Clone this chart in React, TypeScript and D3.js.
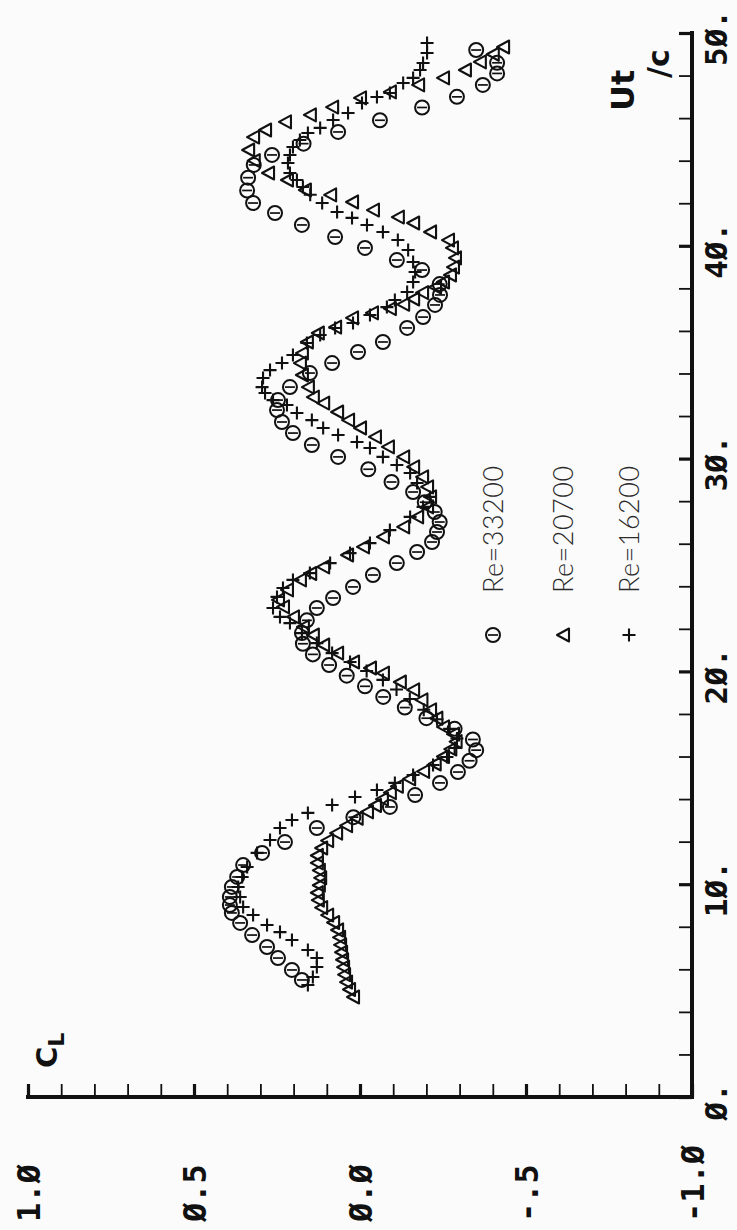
import { useEffect, useRef } from "react";
import * as d3 from "d3";

// values: time Ut/c and lift coefficient C_L for each Reynolds number
const ut33200 = [5.5, 5.97, 6.53, 7.05, 7.61, 8.18, 8.65, 9.02, 9.4, 9.87, 10.34, 10.9, 11.47, 11.98, 12.64, 13.15, 13.63, 14.19, 14.76, 15.27, 15.8, 16.3, 16.8, 17.3, 17.8, 18.3, 18.8, 19.3, 19.8, 20.3, 20.8, 21.3, 21.8, 22.4, 22.98, 23.45, 23.97, 24.53, 25.09, 25.61, 26.08, 26.55, 27.02, 27.49, 27.95, 28.43, 28.9, 29.5, 30.08, 30.64, 31.2, 31.72, 32.28, 32.75, 33.36, 34.02, 34.49, 35.01, 35.48, 36.14, 36.65, 37.22, 37.69, 38.2, 38.86, 39.33, 39.9, 40.41, 40.98, 41.54, 42.01, 42.6, 43.2, 43.8, 44.27, 44.8, 45.35, 45.9, 46.5, 47.0, 47.56, 48.1, 48.6, 49.2];
const cl33200 = [0.175, 0.205, 0.247, 0.28, 0.325, 0.361, 0.386, 0.392, 0.392, 0.386, 0.37, 0.352, 0.295, 0.226, 0.13, 0.02, -0.09, -0.166, -0.241, -0.295, -0.33, -0.35, -0.34, -0.285, -0.2, -0.135, -0.07, -0.015, 0.04, 0.093, 0.142, 0.172, 0.175, 0.16, 0.13, 0.081, 0.021, -0.039, -0.111, -0.172, -0.217, -0.232, -0.24, -0.225, -0.195, -0.16, -0.095, -0.025, 0.066, 0.145, 0.202, 0.235, 0.25, 0.247, 0.211, 0.151, 0.084, 0.006, -0.069, -0.142, -0.19, -0.226, -0.241, -0.24, -0.187, -0.111, -0.015, 0.075, 0.175, 0.256, 0.322, 0.34, 0.337, 0.32, 0.265, 0.17, 0.066, -0.06, -0.187, -0.292, -0.37, -0.413, -0.413, -0.35];

const ut20700 = [4.7, 5.05, 5.4, 5.75, 6.1, 6.45, 6.8, 7.15, 7.5, 7.85, 8.2, 8.55, 8.9, 9.25, 9.6, 9.95, 10.3, 10.65, 11.0, 11.35, 11.7, 12.05, 12.4, 12.75, 13.1, 13.4, 13.7, 14.0, 14.3, 14.6, 14.95, 15.3, 15.65, 16.0, 16.35, 16.7, 17.05, 17.39, 17.8, 18.19, 18.66, 19.13, 19.5, 19.92, 20.16, 20.44, 20.86, 21.24, 21.71, 22.09, 22.56, 23.03, 23.36, 23.83, 24.3, 24.6, 24.91, 25.47, 25.85, 26.32, 26.79, 27.26, 27.73, 28.2, 28.67, 29.14, 29.61, 30.08, 30.55, 31.02, 31.44, 31.81, 32.19, 32.61, 32.89, 33.36, 33.93, 34.49, 34.96, 35.48, 35.9, 36.18, 36.61, 36.85, 37.05, 37.25, 37.5, 37.8, 38.06, 38.3, 38.63, 39.0, 39.43, 39.9, 40.27, 40.65, 41.07, 41.35, 41.68, 42.06, 42.39, 42.62, 43.09, 43.42, 44.0, 44.5, 45.11, 45.44, 45.82, 46.15, 46.52, 46.95, 47.23, 47.56, 47.89, 48.26, 48.64, 49.0, 49.34];
const cl20700 = [0.021, 0.033, 0.042, 0.048, 0.051, 0.054, 0.057, 0.06, 0.063, 0.069, 0.081, 0.099, 0.117, 0.127, 0.13, 0.124, 0.12, 0.124, 0.13, 0.13, 0.117, 0.099, 0.072, 0.042, 0.01, -0.021, -0.045, -0.066, -0.09, -0.111, -0.148, -0.19, -0.225, -0.25, -0.272, -0.288, -0.28, -0.25, -0.23, -0.211, -0.185, -0.16, -0.12, -0.069, -0.03, 0.021, 0.069, 0.111, 0.142, 0.172, 0.202, 0.232, 0.247, 0.22, 0.181, 0.15, 0.111, 0.039, -0.009, -0.069, -0.13, -0.172, -0.202, -0.211, -0.202, -0.187, -0.16, -0.13, -0.084, -0.045, 0.0, 0.036, 0.069, 0.111, 0.142, 0.157, 0.175, 0.181, 0.175, 0.16, 0.127, 0.075, 0.024, -0.036, -0.09, -0.13, -0.16, -0.187, -0.226, -0.25, -0.271, -0.28, -0.286, -0.277, -0.265, -0.211, -0.16, -0.114, -0.039, 0.024, 0.09, 0.166, 0.22, 0.277, 0.32, 0.337, 0.322, 0.286, 0.226, 0.151, 0.084, 0.0, -0.09, -0.175, -0.25, -0.316, -0.361, -0.4, -0.431];

const ut16200 = [5.26, 5.64, 6.11, 6.53, 6.91, 7.38, 7.75, 8.08, 8.55, 8.93, 9.4, 9.87, 10.34, 10.81, 11.47, 12.08, 12.64, 13.02, 13.35, 13.72, 14.1, 14.43, 14.76, 15.13, 15.6, 15.98, 16.4, 16.85, 17.3, 17.75, 18.2, 18.7, 19.15, 19.6, 20.02, 20.44, 20.86, 21.33, 21.8, 22.27, 22.56, 22.98, 23.5, 23.92, 24.3, 24.62, 25.09, 25.56, 26.03, 26.64, 27.26, 27.73, 28.2, 28.85, 29.32, 29.7, 30.08, 30.5, 30.78, 31.11, 31.44, 31.81, 32.14, 32.52, 32.75, 33.08, 33.36, 33.79, 34.16, 34.49, 34.87, 35.43, 35.81, 36.14, 36.37, 36.75, 37.12, 37.45, 37.83, 38.3, 38.77, 39.24, 39.8, 40.27, 40.65, 40.98, 41.31, 41.59, 42.01, 42.4, 42.76, 43.09, 43.42, 43.89, 44.27, 44.64, 44.97, 45.3, 45.54, 45.91, 46.24, 46.71, 46.99, 47.18, 47.65, 47.89, 48.26, 48.59, 49.06, 49.53];
const cl16200 = [0.157, 0.142, 0.13, 0.13, 0.157, 0.205, 0.241, 0.28, 0.322, 0.352, 0.361, 0.367, 0.355, 0.34, 0.31, 0.271, 0.241, 0.205, 0.157, 0.084, 0.015, -0.051, -0.105, -0.16, -0.22, -0.262, -0.285, -0.292, -0.27, -0.232, -0.192, -0.15, -0.11, -0.069, -0.02, 0.03, 0.084, 0.13, 0.175, 0.211, 0.241, 0.262, 0.25, 0.232, 0.202, 0.151, 0.09, 0.03, -0.03, -0.09, -0.151, -0.19, -0.211, -0.172, -0.151, -0.111, -0.069, -0.03, 0.009, 0.066, 0.111, 0.145, 0.19, 0.22, 0.262, 0.286, 0.295, 0.292, 0.271, 0.235, 0.202, 0.16, 0.12, 0.075, 0.021, -0.03, -0.081, -0.105, -0.142, -0.16, -0.166, -0.16, -0.145, -0.114, -0.069, -0.021, 0.024, 0.069, 0.114, 0.15, 0.172, 0.19, 0.211, 0.217, 0.211, 0.202, 0.181, 0.157, 0.12, 0.081, 0.036, -0.006, -0.051, -0.09, -0.13, -0.16, -0.181, -0.19, -0.202, -0.202];

const clTickValues = [1, 0.5, 0, -0.5, -1];
const clTickLabels = ["1.Ø", "Ø.5", "Ø.Ø", "-.5", "-1.Ø"];
const utTickValues = [0, 10, 20, 30, 40, 50];
const utTickLabels = ["Ø.", "1Ø.", "2Ø.", "3Ø.", "4Ø.", "5Ø."];
const legendNames = ["Re=33200", "Re=20700", "Re=16200"];

const W = 737;
const H = 1230;
const ink = "#111";

const App = () => {
  const svgRef = useRef<SVGSVGElement>(null);

  useEffect(() => {
    const svg = d3.select(svgRef.current);
    svg.selectAll("*").remove();

    // the figure is printed on its side: Ut/c runs upwards, C_L runs to the left
    const x = d3.scaleLinear().domain([1, -1]).range([28, 692]);
    const y = d3.scaleLinear().domain([0, 50]).range([1097, 33]);

    // C_L axis along the bottom, ticks every 0.1
    const clAxis = d3
      .axisTop(x)
      .tickValues(d3.range(-10, 11).map((d) => d / 10))
      .tickSize(13)
      .tickFormat(() => "");
    const gx = svg.append("g").attr("transform", `translate(0,${y(0)})`).call(clAxis);
    gx.select(".domain").remove();
    gx.selectAll<SVGLineElement, number>(".tick line")
      .attr("stroke", ink)
      .attr("stroke-width", (d) => (Math.abs(d * 2 - Math.round(d * 2)) < 1e-6 ? 3.2 : 1.8));

    // Ut/c axis on the right, ticks every 2
    const utAxis = d3
      .axisLeft(y)
      .tickValues(d3.range(0, 51, 2))
      .tickSize(13)
      .tickFormat(() => "");
    const gy = svg.append("g").attr("transform", `translate(${x(-1)},0)`).call(utAxis);
    gy.select(".domain").remove();
    gy.selectAll<SVGLineElement, number>(".tick line")
      .attr("stroke", ink)
      .attr("stroke-width", (d) => (d % 10 === 0 ? 3.2 : 1.8));

    svg.append("line")
      .attr("x1", x(1)).attr("x2", x(-1))
      .attr("y1", y(0)).attr("y2", y(0))
      .attr("stroke", ink).attr("stroke-width", 4).attr("stroke-linecap", "square");
    svg.append("line")
      .attr("x1", x(-1)).attr("x2", x(-1))
      .attr("y1", y(0)).attr("y2", y(50))
      .attr("stroke", ink).attr("stroke-width", 4).attr("stroke-linecap", "square");

    const labelFont = "'DejaVu Sans Mono', monospace";

    svg.selectAll(".cl-label")
      .data(clTickValues)
      .join("text")
      .attr("class", "cl-label")
      .attr("transform", (d) => `translate(${x(d) + 12},1222) rotate(-90)`)
      .attr("font-family", labelFont)
      .attr("font-weight", "bold")
      .attr("font-size", 32)
      .attr("fill", ink)
      .text((d, i) => clTickLabels[i]);

    svg.selectAll(".ut-label")
      .data(utTickValues)
      .join("text")
      .attr("class", "ut-label")
      .attr("transform", (d) => `translate(727,${y(d) + 5}) rotate(-90)`)
      .attr("text-anchor", "middle")
      .attr("font-family", labelFont)
      .attr("font-weight", "bold")
      .attr("font-size", 31)
      .attr("fill", ink)
      .text((d, i) => utTickLabels[i]);

    // axis titles
    const cl = svg.append("text")
      .attr("transform", "translate(57,1068) rotate(-90)")
      .attr("font-family", "'DejaVu Sans', sans-serif")
      .attr("font-weight", "bold")
      .attr("font-size", 29)
      .attr("fill", ink);
    cl.append("tspan").text("C");
    cl.append("tspan").attr("dy", 7).attr("font-size", 22).text("L");

    svg.append("text")
      .attr("transform", "translate(634,111) rotate(-90)")
      .attr("font-family", "'DejaVu Sans', sans-serif")
      .attr("font-weight", "bold")
      .attr("font-size", 32)
      .attr("fill", ink)
      .text("Ut");
    svg.append("text")
      .attr("transform", "translate(669,78) rotate(-90)")
      .attr("font-family", "'DejaVu Sans', sans-serif")
      .attr("font-weight", "bold")
      .attr("font-size", 30)
      .attr("fill", ink)
      .text("/c");

    // markers
    const drawCircle = (g) => {
      g.append("circle").attr("r", 7).attr("fill", "none").attr("stroke", ink).attr("stroke-width", 2);
      g.append("line").attr("x1", -5).attr("x2", 5).attr("stroke", ink).attr("stroke-width", 1.7);
    };
    const drawTriangle = (g) => {
      g.append("path").attr("d", "M-6,0L6,-6.5L6,6.5Z").attr("fill", "none")
        .attr("stroke", ink).attr("stroke-width", 2.1).attr("stroke-linejoin", "round");
    };
    const drawPlus = (g) => {
      g.append("path").attr("d", "M-6.5,0H6.5M0,-6.5V6.5").attr("stroke", ink).attr("stroke-width", 2.1);
    };

    const series = [
      { ut: ut20700, cl: cl20700, draw: drawTriangle },
      { ut: ut16200, cl: cl16200, draw: drawPlus },
      { ut: ut33200, cl: cl33200, draw: drawCircle },
    ];
    series.forEach((s) => {
      const pts = d3.zip(s.ut, s.cl);
      svg.append("g")
        .selectAll("g")
        .data(pts)
        .join("g")
        .attr("transform", (d) => `translate(${x(d[1])},${y(d[0])})`)
        .each(function () {
          s.draw(d3.select(this));
        });
    });

    // legend
    const legendDraw = [drawCircle, drawTriangle, drawPlus];
    const legendX = [493, 563, 629];
    legendNames.forEach((name, i) => {
      const g = svg.append("g").attr("transform", `translate(${legendX[i]},635)`);
      legendDraw[i](g);
      svg.append("text")
        .attr("transform", `translate(${legendX[i] + 10},593) rotate(-90)`)
        .attr("font-family", "Lato, 'Open Sans', sans-serif")
        .attr("font-weight", 300)
        .attr("font-size", 27)
        .attr("letter-spacing", 0.5)
        .attr("fill", "#2a2a2a")
        .text(name);
    });
  }, []);

  return (
    <svg
      ref={svgRef}
      width={W}
      height={H}
      style={{ position: "absolute", left: 0, top: 0, background: "#fbfbfb" }}
    />
  );
};

export default App;
